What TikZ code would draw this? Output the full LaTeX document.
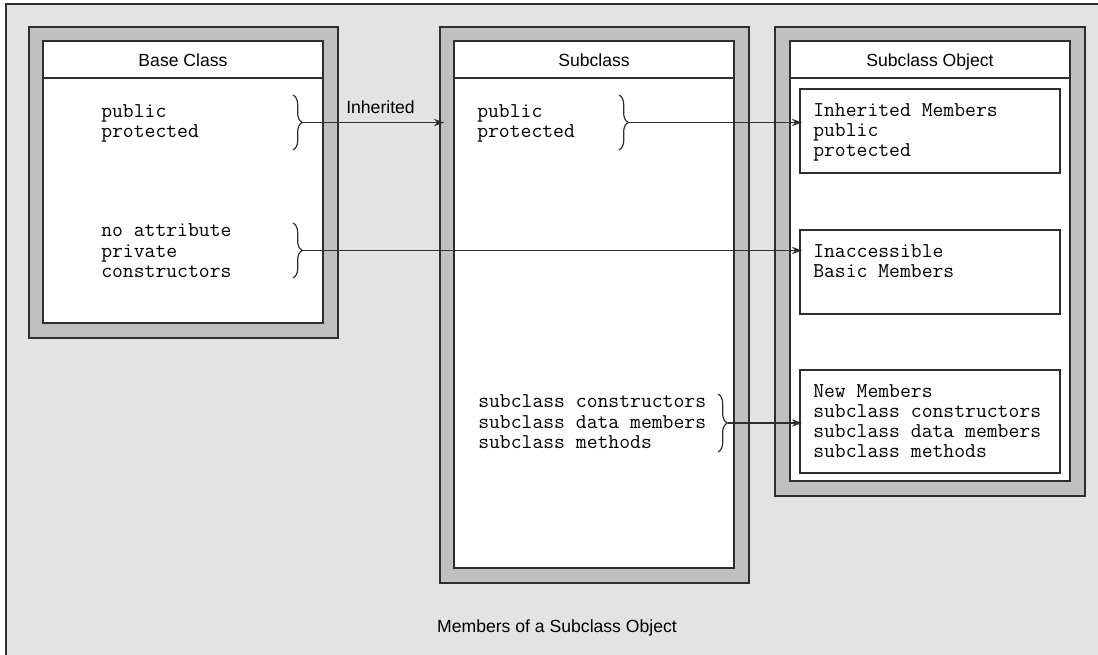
\documentclass[tikz,border=0pt]{standalone}
\usepackage{fontspec}
\setmainfont{Liberation Sans}
\usetikzlibrary{arrows.meta,fit,decorations.pathreplacing}
\definecolor{paper}{HTML}{E3E3E3}
\definecolor{framegray}{HTML}{C0C0C0}
\definecolor{inkgray}{HTML}{2E2E2E}

\begin{document}
\begin{tikzpicture}[
    x=0.75pt, y=-0.75pt,
    font=\fontsize{13.2}{15.2}\selectfont,
    frame/.style={rectangle, draw=inkgray, fill=framegray, line width=1.1pt, inner sep=0pt},
    panel/.style={rectangle, draw=inkgray, fill=white, line width=1.1pt, inner sep=0pt},
    membox/.style={rectangle, draw=inkgray, fill=white, line width=1.1pt, inner sep=0pt},
    rule/.style={draw=inkgray, line width=1.1pt},
    code/.style={font=\ttfamily\fontsize{15.8}{15.2}\selectfont, align=left, anchor=base west, inner sep=0pt},
    title/.style={anchor=base, inner sep=0pt},
    brc/.style={decorate, decoration={brace, amplitude=7pt}, draw=inkgray, line width=0.9pt},
    arr/.style={-{Stealth[length=7.5pt,width=5.5pt]}, draw=inkgray, line width=1.1pt}
  ]
    \useasboundingbox (0,0) rectangle (1098,655);
    \fill[paper] (6,4) rectangle (1098,655);
    \draw[rule] (6,655) |- (1098,4);

    % Base Class (code nodes sit on the baseline of their last line)
    \node[frame, fit={(29,27) (338,338)}] (baseframe) {};
    \node[panel, fit={(43,41) (323,323)}] (basepanel) {};
    \draw[rule] (basepanel.west |- 0,78) -- (basepanel.east |- 0,78);
    \node[title] (basetitle) at (183,67) {Base Class};
    \node[code] (basepub) at (101,137.3) {public\\protected};
    \node[code] (basepriv) at (101,277.5) {no attribute\\private\\constructors};

    % Subclass
    \node[frame, fit={(440,27) (749,583)}] (subframe) {};
    \node[panel, fit={(454,41) (734,568)}] (subpanel) {};
    \draw[rule] (subpanel.west |- 0,78) -- (subpanel.east |- 0,78);
    \node[title] (subtitle) at (594,67) {Subclass};
    \node[code] (subpub) at (477,137.3) {public\\protected};
    \node[code] (subnew) at (478,448.5) {subclass constructors\\subclass data members\\subclass methods};

    % Subclass Object
    \node[frame, fit={(775,27) (1085,496)}] (objframe) {};
    \node[panel, fit={(790,41) (1070,481)}] (objpanel) {};
    \draw[rule] (objpanel.west |- 0,78) -- (objpanel.east |- 0,78);
    \node[title] (objtitle) at (930,67) {Subclass Object};
    \node[membox, fit={(800,89) (1060,173)}] (inhbox) {};
    \node[membox, fit={(800,230) (1060,314)}] (inaccbox) {};
    \node[membox, fit={(800,370) (1060,473)}] (newbox) {};
    \node[code] (inhtext) at (813,157) {Inherited Members\\public\\protected};
    \node[code] (inacctext) at (813,277.3) {Inaccessible\\Basic Members};
    \node[code] (newtext) at (813,457.8) {New Members\\subclass constructors\\subclass data members\\subclass methods};

    % braces
    \draw[brc] (293,95) -- (293,150);
    \coordinate (basetip1) at (303,122.5);
    \draw[brc] (293,223) -- (293,278);
    \coordinate (basetip2) at (303,250.5);
    \draw[brc] (619,95) -- (619,150);
    \coordinate (subtip1) at (629,122.5);
    \draw[brc] (718,394) -- (718,452);
    \coordinate (subtip2) at (728,423);

    % connectors
    \draw[arr] (basetip1) -- ([xshift=3.5pt]basetip1 -| subframe.west)
      node[title, pos=0.55, above=6pt] (inhlabel) {Inherited};
    \draw[arr] (basetip2) -- ([xshift=2pt]basetip2 -| inaccbox.west);
    \draw[arr] (subtip1) -- ([xshift=2pt]subtip1 -| inhbox.west);
    \draw[arr] (subtip2) -- ([xshift=2pt]subtip2 -| newbox.west);

    \node[title] (caption) at (557,632) {Members of a Subclass Object};
  \end{tikzpicture}
\end{document}
